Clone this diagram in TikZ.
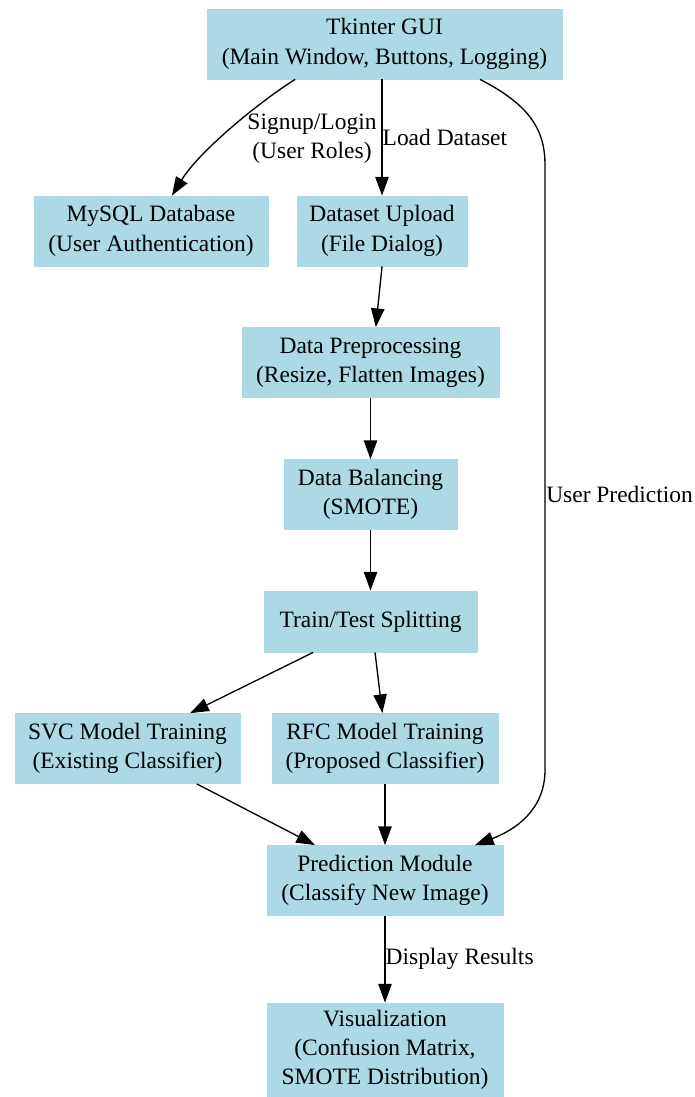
\documentclass[tikz,border=0pt]{standalone}
\usepackage{fontspec}
\setmainfont{Liberation Serif}
\usetikzlibrary{arrows.meta, positioning}
\tikzset{
    base/.style = {
        draw=lightblue, fill=lightblue, line width=0.6pt, align=center,
        inner sep=0pt, font=\fontsize{17.6}{22}\selectfont
    },
    % Boxes
    module/.style = {base, rectangle, minimum height=52.5pt},
    % Edges and labels
    arrow/.style = {line width=1pt, -{Triangle[length=14pt, width=10pt]}},
    edgelabel/.style = {font=\fontsize{17.6}{22}\selectfont, align=center, inner sep=0pt}
}
\definecolor{lightblue}{HTML}{ADD8E6}

\begin{document}
\begin{tikzpicture}[x=0.75pt, y=-0.75pt]
    \useasboundingbox (0,0) rectangle (694,1097);

    \node (gui) [module, minimum width=266.25pt] at (384.5,44) {Tkinter GUI\\(Main Window, Buttons, Logging)};
    \node (mysql) [module, minimum width=175.5pt] at (151,231) {MySQL Database\\(User Authentication)};
    \node (upload) [module, minimum width=127.5pt] at (382,231) {Dataset Upload\\(File Dialog)};
    \node (prep) [module, minimum width=192.75pt] at (370.5,362.5) {Data Preprocessing\\(Resize, Flatten Images)};
    \node (smote) [module, minimum width=129.75pt] at (370.5,494.5) {Data Balancing\\(SMOTE)};
    \node (split) [module, minimum width=159.75pt, minimum height=45.75pt] at (370.5,621.5) {Train/Test Splitting};
    \node (svc) [module, minimum width=168.75pt] at (127.5,748.5) {SVC Model Training\\(Existing Classifier)};
    \node (rfc) [module, minimum width=169.5pt] at (385,748.5) {RFC Model Training\\(Proposed Classifier)};
    \node (predict) [module, minimum width=177pt] at (385,880.5) {Prediction Module\\(Classify New Image)};
    \node (viz) [module, minimum width=177pt, minimum height=70.5pt] at (385,1050) {Visualization\\(Confusion Matrix,\\SMOTE Distribution)};

    \coordinate (guiL) at ([xshift=-67pt]gui.south);
    \coordinate (guiR) at ([xshift=71.6pt]gui.south);

    \draw [arrow] (guiL) .. controls (262,100) and (200,150) .. ([xshift=15.75pt]mysql.north);
    \node (signup) [edgelabel] at (312,139) {Signup/Login\\(User Roles)};
    \draw [arrow] (gui.south -| upload.north) -- node[right, edgelabel] {Load Dataset} (upload.north);
    \draw [arrow] (guiR) .. controls (530,105) and (545,130) .. (545,165) -- (545,770)
        .. controls (545,810) and (515,830) .. ([xshift=67.5pt]predict.north);
    \node (userpred) [edgelabel, anchor=west] at (546,494) {User Prediction};

    \draw [arrow] (upload.south) -- ([xshift=4pt]prep.north);
    \draw [arrow] (prep) -- (smote);
    \draw [arrow] (smote) -- (split);
    \draw [arrow] ([xshift=-43pt]split.south) -- ([xshift=47pt]svc.north);
    \draw [arrow] ([xshift=3.4pt]split.south) -- ([xshift=-2pt]rfc.north);
    \draw [arrow] ([xshift=52pt]svc.south) -- ([xshift=-52.5pt]predict.north);
    \draw [arrow] (rfc) -- (predict);
    \draw [arrow] (predict) -- node[right, edgelabel] {Display Results} (viz);
\end{tikzpicture}
\end{document}
